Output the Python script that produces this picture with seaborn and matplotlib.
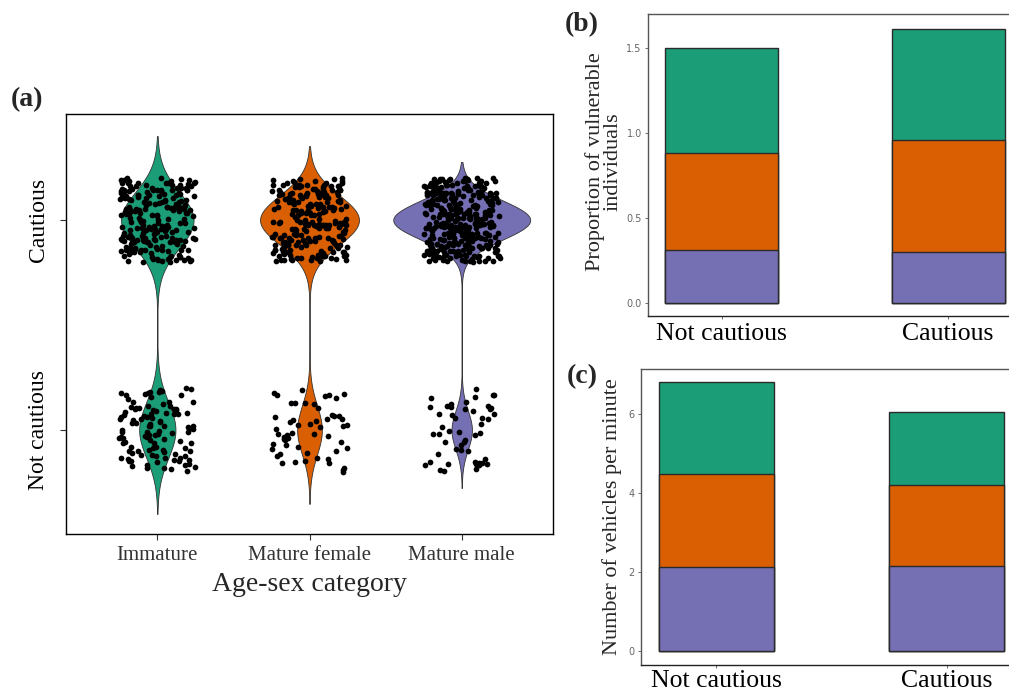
import numpy as np
import pandas as pd
import matplotlib
matplotlib.use("Agg")
import matplotlib.pyplot as plt
import seaborn as sns

# ---------------- data ----------------
categories = ["Immature", "Mature female", "Mature male"]
palette = ["#1B9E77", "#D95F02", "#7570B3"]
n_cautious = [220, 220, 335]
n_not_cautious = [110, 55, 50]
outcome_ticks = ["Not cautious", "Cautious"]

bar_groups = ["Not cautious", "Cautious"]
# panel (b): proportion of vulnerable individuals (stacked segments)
prop_male = [0.31, 0.30]
prop_female = [0.57, 0.66]
prop_immature = [0.62, 0.65]
# panel (c): number of vehicles per minute (stacked segments)
veh_male = [2.12, 2.15]
veh_female = [2.37, 2.06]
veh_immature = [2.31, 1.85]

# ---------------- style ----------------
sns.set_style("ticks")
plt.rcParams["font.family"] = ["Liberation Serif", "DejaVu Serif"]

fig = plt.figure(figsize=(10.09, 6.99), dpi=100)

# ---------------- panel (a) ----------------
rows = []
for cat, nc, nn in zip(categories, n_cautious, n_not_cautious):
    rows += [(cat, 1)] * nc + [(cat, 0)] * nn
dfa = pd.DataFrame(rows, columns=["category", "value"])
dfa["idx"] = dfa["category"].map({c: i for i, c in enumerate(categories)})

axA = fig.add_axes([0.0654, 0.2361, 0.4827, 0.6009])
sns.violinplot(data=dfa, x="category", y="value", hue="category",
               order=categories, hue_order=categories, palette=palette,
               saturation=1, cut=3, bw_adjust=0.9, width=0.9, inner=None,
               density_norm="area", common_norm=True, gridsize=400,
               linewidth=0.6, linecolor="#333333", legend=False, ax=axA)

# display jitter (like geom_jitter)
rng = np.random.default_rng(11)
jx = dfa["idx"].to_numpy() + rng.uniform(-0.25, 0.25, len(dfa))
jy = dfa["value"].to_numpy() + rng.uniform(-0.2, 0.2, len(dfa))
sns.scatterplot(x=jx, y=jy, color="black", s=17, linewidth=0, ax=axA, zorder=4)

axA.set_xlim(-0.6, 2.6)
axA.set_ylim(-0.495, 1.505)
axA.set_yticks([0, 1])
axA.set_yticklabels(outcome_ticks, rotation=90, va="center", fontsize=17, color="black")
axA.set_xticks([0, 1, 2])
axA.set_xticklabels(categories, fontsize=15, color="#333333")
axA.tick_params(axis="both", length=4, width=0.8, color="#333333")
axA.tick_params(axis="y", pad=8)
axA.tick_params(axis="x", pad=5)
axA.set_ylabel("")
axA.set_xlabel("Age-sex category", fontsize=20)
axA.xaxis.set_label_coords(0.5, -0.09)
for s in axA.spines.values():
    s.set_visible(True)
    s.set_color("black")
    s.set_linewidth(1.0)

# ---------------- stacked bars (b) and (c) ----------------
def stacked(ax, male, female, imm):
    d = pd.DataFrame({"group": bar_groups, "male": male, "female": female, "imm": imm})
    d["top"] = d["male"] + d["female"] + d["imm"]
    d["mid"] = d["male"] + d["female"]
    for col, c in [("top", palette[0]), ("mid", palette[1]), ("male", palette[2])]:
        sns.barplot(data=d, x="group", y=col, order=bar_groups, color=c,
                    saturation=1, width=0.5, errorbar=None,
                    edgecolor="#2a2a2a", linewidth=1.0, ax=ax)
    ax.set_xlabel("")
    ax.set_xticks([0, 1])
    ax.set_xticklabels(bar_groups, fontsize=18.5, color="black")
    ax.tick_params(axis="x", length=2, width=0.6, color="#555555", pad=1.5)
    ax.tick_params(axis="y", length=2.5, width=0.6, color="#555555", pad=2,
                   labelsize=7, labelcolor="#666666")
    for s in ax.spines.values():
        s.set_visible(True)
        s.set_color("#555555")
        s.set_linewidth(1.0)
    ax.spines["bottom"].set_color("#222222")
    ax.set_xlim(-0.327, 1.327)

axB = fig.add_axes([0.6422, 0.5479, 0.3707, 0.4320])
stacked(axB, prop_male, prop_female, prop_immature)
axB.set_ylim(-0.078, 1.698)
axB.set_yticks([0, 0.5, 1.0, 1.5])
axB.set_yticklabels(["0.0", "0.5", "1.0", "1.5"], fontfamily="DejaVu Sans")
axB.tick_params(axis="x", pad=3)
axB.set_ylabel("Proportion of vulnerable\nindividuals", fontsize=16, linespacing=0.95)
axB.yaxis.set_label_coords(-0.067, 0.51)

axC = fig.add_axes([0.6353, 1 - 665 / 699, 0.3776, (665 - 369) / 699])
stacked(axC, veh_male, veh_female, veh_immature)
axC.set_ylim(-0.36, 7.14)
axC.set_yticks([0, 2, 4, 6])
axC.set_yticklabels(["0", "2", "4", "6"], fontfamily="DejaVu Sans")
axC.set_ylabel("Number of vehicles per minute", fontsize=16)
axC.yaxis.set_label_coords(-0.05, 0.5)

# panel letters
fig.text(27 / 1009, 1 - 100 / 699, "(a)", fontsize=20, fontweight="bold", ha="center", va="center")
fig.text(582 / 1009, 1 - 25 / 699, "(b)", fontsize=20, fontweight="bold", ha="center", va="center")
fig.text(582 / 1009, 1 - 377 / 699, "(c)", fontsize=20, fontweight="bold", ha="center", va="center")

fig.savefig("out.png", dpi=100)
